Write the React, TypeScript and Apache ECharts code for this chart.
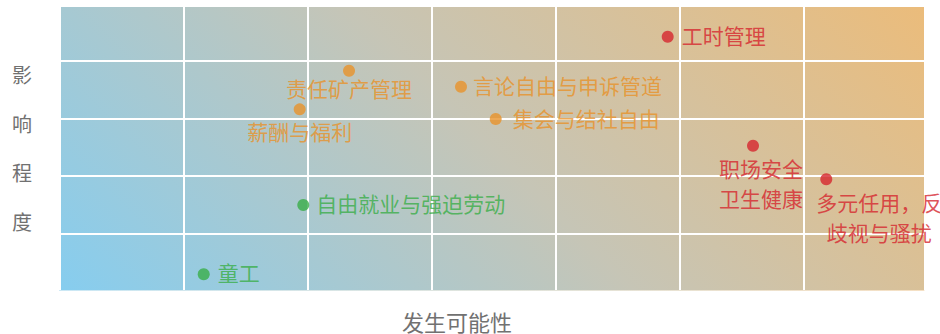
import React, { useEffect, useRef } from "react";
import * as echarts from "echarts";

// ---- data ----
const riskNames = [
  "工时管理",
  "责任矿产管理",
  "薪酬与福利",
  "言论自由与申诉管道",
  "集会与结社自由",
  "职场安全\n卫生健康",
  "多元任用，反\n歧视与骚扰",
  "自由就业与强迫劳动",
  "童工",
];
const likelihood = [4.905, 2.335, 1.937, 3.238, 3.518, 5.593, 6.184, 1.966, 1.163];
const impact = [4.425, 3.833, 3.16, 3.554, 2.991, 2.526, 1.941, 1.493, 0.286];
const riskLevel = ["high", "medium", "medium", "medium", "medium", "high", "high", "low", "low"];

const xAxisTitle = "发生可能性";
const yAxisTitle = "影响程度";

// ---- styles ----
const levelColors: Record<string, string> = {
  high: "#d6262e",
  medium: "#e8922a",
  low: "#3aae48",
};

const labelLayouts: Record<string, any> = {
  "工时管理": { position: "right", distance: 8, offset: [0, -2] },
  "责任矿产管理": { position: "bottom", distance: 0 },
  "薪酬与福利": { position: "bottom", distance: 5 },
  "言论自由与申诉管道": { position: "right", distance: 6, offset: [0, -2] },
  "集会与结社自由": { position: "right", distance: 11, offset: [0, -1] },
  "职场安全\n卫生健康": { position: "bottom", distance: 1, offset: [8, 0], lineHeight: 30 },
  "多元任用，反\n歧视与骚扰": { position: "bottom", distance: 2, offset: [53, 0], lineHeight: 30 },
  "自由就业与强迫劳动": { position: "right", distance: 7, offset: [0, -2] },
  "童工": { position: "right", distance: 8, offset: [0, -2] },
};

const FONT = "'Noto Sans CJK SC', 'Noto Sans', sans-serif";

export default function App() {
  const ref = useRef<HTMLDivElement>(null);

  useEffect(() => {
    if (!ref.current) return;
    const chart = echarts.init(ref.current, null, { renderer: "svg" });

    const bg = new echarts.graphic.LinearGradient(
      59.5,
      290.7,
      633.6,
      -283.4,
      [
        { offset: 0, color: "#86cdef" },
        { offset: 0.5, color: "#c6c5b6" },
        { offset: 1, color: "#ebbc7b" },
      ],
      true
    );
    const axisLineColor = new echarts.graphic.LinearGradient(
      60,
      0,
      924,
      0,
      [
        { offset: 0, color: "#cbe8f5" },
        { offset: 1, color: "#f5e0c4" },
      ],
      true
    );

    const data = riskNames.map((name, i) => {
      const color = levelColors[riskLevel[i]];
      const l = labelLayouts[name] || {};
      return {
        name,
        value: [likelihood[i], impact[i]],
        itemStyle: { color },
        label: {
          show: true,
          formatter: name,
          position: l.position,
          distance: l.distance,
          offset: l.offset || [0, 0],
          lineHeight: l.lineHeight || 22,
          color,
          fontSize: 21,
          fontFamily: FONT,
          align: l.position === "right" ? "left" : "center",
        },
      };
    });

    chart.setOption({
      animation: false,
      grid: {
        show: true,
        left: 59.5,
        right: 16,
        top: 7,
        bottom: 43.3,
        backgroundColor: bg,
        borderWidth: 0,
        borderColor: "transparent",
      },
      xAxis: {
        type: "value",
        min: 0,
        max: 6.972,
        interval: 1,
        offset: 1.5,
        axisLine: { show: true, lineStyle: { color: axisLineColor, width: 1 } },
        axisTick: { show: false },
        axisLabel: { show: false },
        splitLine: {
          show: true,
          showMaxLine: false,
          lineStyle: { color: "#ffffff", width: 2 },
        },
      },
      yAxis: {
        type: "value",
        min: 0,
        max: 4.943,
        interval: 1,
        axisLine: { show: false },
        axisTick: { show: false },
        axisLabel: { show: false },
        splitLine: {
          show: true,
          showMaxLine: false,
          lineStyle: { color: "#ffffff", width: 2 },
        },
      },
      graphic: [
        {
          type: "text",
          left: 12,
          top: 50,
          style: {
            text: yAxisTitle.split("").join("\n"),
            fontSize: 20,
            lineHeight: 49,
            fill: "#717171",
            fontFamily: FONT,
            align: "center",
          },
        },
        {
          type: "text",
          left: 402,
          top: 310,
          style: {
            text: xAxisTitle,
            fontSize: 22,
            lineHeight: 22,
            fill: "#717171",
            fontFamily: FONT,
          },
        },
      ],
      series: [
        {
          type: "scatter",
          symbol: "circle",
          symbolSize: 12,
          data,
          emphasis: { disabled: true },
        },
      ],
    });

    return () => chart.dispose();
  }, []);

  return (
    <div
      ref={ref}
      style={{ position: "absolute", left: 0, top: 0, width: 940, height: 334 }}
    />
  );
}
